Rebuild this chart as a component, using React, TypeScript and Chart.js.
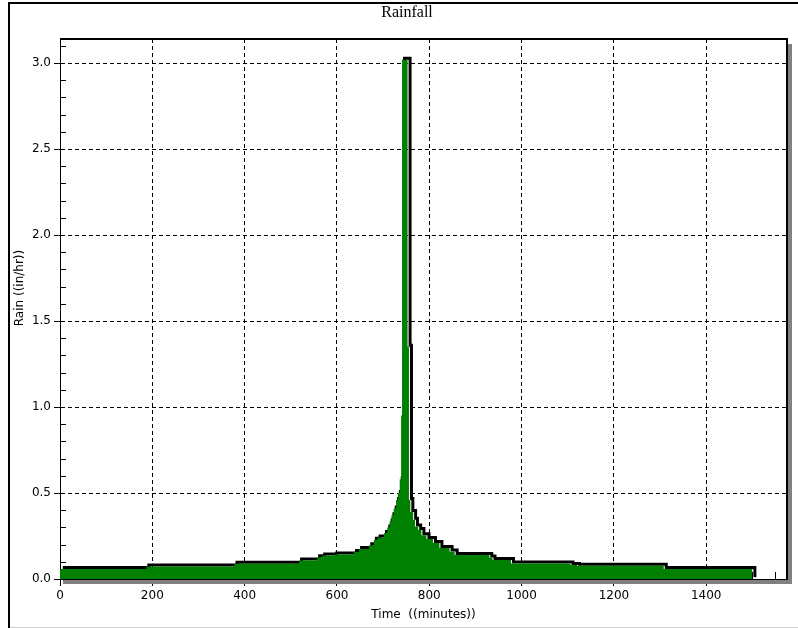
import React, { useEffect, useRef } from 'react';
import { Chart, registerables } from 'chart.js';

Chart.register(...registerables);

// Step start times (minutes) and rainfall intensity (in/hr) held until the next step
const stepStartMinutes = [
  0, 187, 378, 518, 557, 568, 594, 637, 648, 670, 680, 688, 702, 709, 714, 718,
  723, 728, 732, 736, 739, 741, 753, 756, 759, 765, 769, 776, 783, 794, 808,
  822, 844, 855, 930, 937, 977, 1106, 1120, 1308,
];
const rainInPerHr = [
  0.058, 0.072, 0.088, 0.108, 0.127, 0.136, 0.142, 0.157, 0.174, 0.196, 0.228, 0.242, 0.268, 0.30, 0.335, 0.37,
  0.41, 0.46, 0.50, 0.58, 0.95, 3.02, 1.35, 0.46, 0.39, 0.345, 0.305, 0.285, 0.255, 0.232, 0.21,
  0.18, 0.16, 0.14, 0.125, 0.11, 0.09, 0.082, 0.077, 0.058,
];
const endMinute = 1500;

const xTickValues = [0, 200, 400, 600, 800, 1000, 1200, 1400];
const yTickValues = [0, 0.5, 1.0, 1.5, 2.0, 2.5, 3.0];

const chartTitle = 'Rainfall';
const xAxisTitle = 'Time  ((minutes))';
const yAxisTitle = 'Rain ((in/hr))';

const X_MAX = 1575;
const Y_MAX = 3.14;
const FONT = 'DejaVu Sans';

const decorPlugin = {
  id: 'decor',
  beforeDatasetsDraw(chart: any) {
    const { ctx, chartArea, scales } = chart;
    const x = scales.x;
    const y = scales.y;
    ctx.save();
    ctx.strokeStyle = '#000';
    ctx.lineWidth = 1;
    // minor y ticks (inside)
    for (let i = 1; i <= 31; i++) {
      if (i % 5 === 0) continue;
      const py = Math.round(y.getPixelForValue(i / 10)) + 0.5;
      ctx.beginPath();
      ctx.moveTo(chartArea.left, py);
      ctx.lineTo(chartArea.left + 6, py);
      ctx.stroke();
    }
    // minor x ticks (inside)
    for (let v = 50; v < X_MAX; v += 50) {
      if (v % 200 === 0) continue;
      const px = Math.round(x.getPixelForValue(v)) + 0.5;
      ctx.beginPath();
      ctx.moveTo(px, chartArea.bottom);
      ctx.lineTo(px, chartArea.bottom - 7);
      ctx.stroke();
    }
    ctx.restore();
  },
  // the outline series is drawn as an offset "shadow" underneath the green fill
  beforeDatasetDraw(chart: any, args: any) {
    if (args.index === 1) {
      chart.ctx.save();
      chart.ctx.translate(2.5, -1.5);
    }
  },
  afterDatasetDraw(chart: any, args: any) {
    if (args.index === 1) chart.ctx.restore();
  },
  afterDraw(chart: any) {
    const { ctx, chartArea } = chart;
    const { left, top, right, bottom } = chartArea;
    ctx.save();
    // shadow
    ctx.fillStyle = '#808080';
    ctx.fillRect(right + 1, top + 5, 4, bottom - top);
    ctx.fillRect(left + 3, bottom + 1, right - left + 2, 4);
    // plot frame top/right
    ctx.fillStyle = '#000';
    ctx.fillRect(left, top - 1, right - left + 1, 2);
    ctx.fillRect(right - 1, top - 1, 2, bottom - top + 2);
    // outer frame
    ctx.fillRect(8, 2, 2, 626);
    ctx.fillRect(8, 2, 790, 2);
    ctx.fillStyle = '#d0d0d0';
    ctx.fillRect(10, 627, 788, 1);
    // titles
    ctx.fillStyle = '#000';
    ctx.textAlign = 'center';
    ctx.textBaseline = 'middle';
    ctx.font = '16px "Liberation Serif"';
    ctx.fillText(chartTitle, 407, 13);
    ctx.font = `12px "${FONT}"`;
    ctx.fillText(xAxisTitle, (left + right) / 2, 615);
    ctx.translate(20, 288);
    ctx.rotate(-Math.PI / 2);
    ctx.fillText(yAxisTitle, 0, 0);
    ctx.restore();
  },
};

export default function App() {
  const ref = useRef<HTMLCanvasElement>(null);
  useEffect(() => {
    const points = stepStartMinutes.map((t, i) => ({ x: t, y: rainInPerHr[i] }));
    points.push({ x: endMinute, y: 0 });
    const chart = new Chart(ref.current as HTMLCanvasElement, {
      type: 'line',
      data: {
        datasets: [
          {
            data: points,
            stepped: true,
            fill: 'origin',
            backgroundColor: 'rgb(0,128,0)',
            borderWidth: 0,
            borderColor: 'rgba(0,0,0,0)',
            pointRadius: 0,
            order: 0,
          },
          {
            data: points,
            stepped: true,
            fill: false,
            borderColor: '#000',
            borderWidth: 3,
            pointRadius: 0,
            order: 1,
          },
        ],
      },
      options: {
        animation: false,
        responsive: false,
        devicePixelRatio: 1,
        layout: { padding: { top: 39, right: 11, left: 0, bottom: 0 } },
        plugins: {
          legend: { display: false },
          tooltip: { enabled: false },
          title: { display: false },
        },
        scales: {
          x: {
            type: 'linear',
            min: 0,
            max: X_MAX,
            afterBuildTicks: (s: any) => {
              s.ticks = xTickValues.map((v) => ({ value: v }));
            },
            afterFit: (s: any) => {
              s.height = 49;
            },
            ticks: {
              color: '#000',
              font: { family: FONT, size: 12 },
              padding: 3,
              maxRotation: 0,
              autoSkip: false,
              callback: (v: any) => String(v),
            },
            grid: { color: '#000', lineWidth: 1, tickLength: 7, tickColor: '#000' },
            border: { display: true, color: '#000', width: 1, dash: [4, 3] },
          },
          y: {
            type: 'linear',
            min: 0,
            max: Y_MAX,
            afterBuildTicks: (s: any) => {
              s.ticks = yTickValues.map((v) => ({ value: v }));
            },
            afterFit: (s: any) => {
              s.width = 60;
            },
            ticks: {
              color: '#000',
              font: { family: FONT, size: 12 },
              padding: 3,
              callback: (v: any) => Number(v).toFixed(1),
            },
            grid: { color: '#000', lineWidth: 1, tickLength: 6, tickColor: '#000' },
            border: { display: true, color: '#000', width: 1, dash: [4, 3] },
          },
        },
      },
      plugins: [decorPlugin],
    });
    return () => chart.destroy();
  }, []);
  return (
    <div style={{ position: 'fixed', left: 0, top: 0, width: 798, height: 628, background: '#fff' }}>
      <canvas ref={ref} width={798} height={628} style={{ display: 'block' }} />
    </div>
  );
}
